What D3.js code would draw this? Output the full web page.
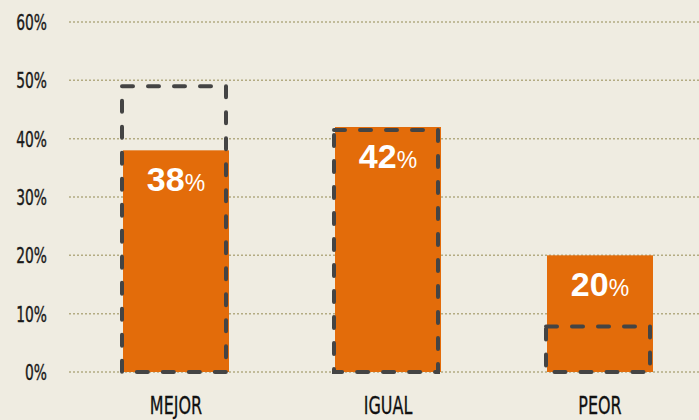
<!DOCTYPE html>
<html>
<head>
<meta charset="utf-8">
<script src="https://cdn.jsdelivr.net/npm/d3@7"></script>
<style>
  html, body { margin: 0; padding: 0; background: #efece1; }
  #chart { width: 699px; height: 420px; }
</style>
</head>
<body>
<div id="chart"></div>
<script>
const categories = ["MEJOR", "IGUAL", "PEOR"];
const barValues = [38, 42, 20];
const dashedValues = [49, 41.5, 7.8];
const yTicks = [0, 10, 20, 30, 40, 50, 60];

const width = 699, height = 420;
const narrowFont = "'DejaVu Sans Condensed', 'DejaVu Sans', sans-serif";

const svg = d3.select("#chart").append("svg")
    .attr("width", width)
    .attr("height", height);

const y = d3.scaleLinear().domain([0, 60]).range([372, 22]);
const x = d3.scaleBand().domain(categories)
    .range([70, 706])
    .paddingInner(0.5)
    .paddingOuter(0.25);

// grid
svg.append("g")
  .selectAll("line")
  .data(yTicks)
  .join("line")
    .attr("x1", 69).attr("x2", width)
    .attr("y1", d => y(d)).attr("y2", d => y(d))
    .attr("stroke", "#b3ab82")
    .attr("stroke-width", 1.5)
    .attr("stroke-dasharray", "2,2");

// y labels (squeezed to look like a narrow font)
svg.append("g")
  .selectAll("text")
  .data(yTicks)
  .join("text")
    .attr("transform", d => `translate(47,${y(d) + 8}) scale(0.7,1)`)
    .attr("text-anchor", "end")
    .attr("font-family", narrowFont)
    .attr("font-size", 22)
    .attr("fill", "#1a1a1a")
    .attr("stroke", "#1a1a1a")
    .attr("stroke-width", 0.4)
    .text(d => d + "%");

// bars
svg.append("g")
  .selectAll("rect")
  .data(categories)
  .join("rect")
    .attr("x", d => x(d))
    .attr("width", x.bandwidth())
    .attr("y", (d, i) => y(barValues[i]))
    .attr("height", (d, i) => y(0) - y(barValues[i]))
    .attr("fill", "#e36c0a");

// dashed outlines
svg.append("g")
  .selectAll("rect")
  .data(categories)
  .join("rect")
    .attr("x", d => x(d) - 1)
    .attr("width", x.bandwidth() - 2)
    .attr("y", (d, i) => y(dashedValues[i]))
    .attr("height", (d, i) => y(0) - y(dashedValues[i]))
    .attr("fill", "none")
    .attr("stroke", "#444444")
    .attr("stroke-width", 4)
    .attr("stroke-linecap", "round")
    .attr("stroke-dasharray", "11,15");

// value labels
const vl = svg.append("g")
  .selectAll("text")
  .data(categories)
  .join("text")
    .attr("x", d => x(d) + x.bandwidth() / 2)
    .attr("y", (d, i) => y(barValues[i]) + 41)
    .attr("text-anchor", "middle")
    .attr("font-family", "'Liberation Sans', Arial, sans-serif")
    .attr("fill", "#ffffff");
vl.append("tspan")
    .attr("font-size", 34)
    .attr("font-weight", "bold")
    .text((d, i) => barValues[i]);
vl.append("tspan")
    .attr("font-size", 23)
    .text("%");

// category labels
svg.append("g")
  .selectAll("text")
  .data(categories)
  .join("text")
    .attr("transform", d => `translate(${x(d) + x.bandwidth() / 2},414) scale(0.74,1)`)
    .attr("text-anchor", "middle")
    .attr("font-family", narrowFont)
    .attr("font-size", 24)
    .attr("fill", "#111111")
    .attr("stroke", "#111111")
    .attr("stroke-width", 0.3)
    .text(d => d);
</script>
</body>
</html>
